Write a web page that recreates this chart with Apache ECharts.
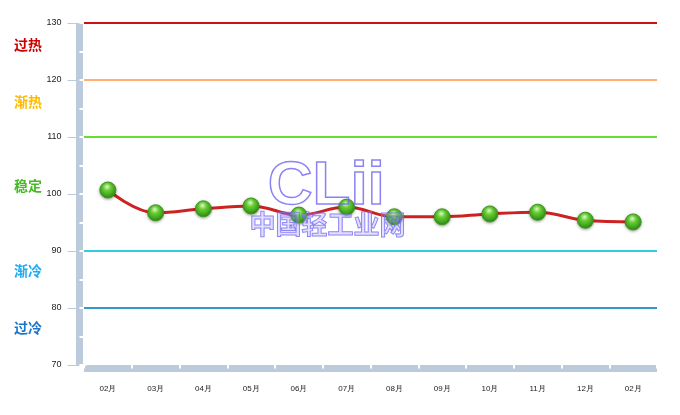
<!DOCTYPE html>
<html><head><meta charset="utf-8">
<script src="https://cdn.jsdelivr.net/npm/echarts@6/dist/echarts.min.js"></script>
<style>html,body{margin:0;padding:0;background:#fff}#c{width:680px;height:415px}</style>
</head><body><div id="c"></div>
<script>
const categories = ['02月','03月','04月','05月','06月','07月','08月','09月','10月','11月','12月','02月'];
const values = [100.7, 96.7, 97.4, 97.9, 96.3, 97.7, 96.0, 96.0, 96.5, 96.8, 95.4, 95.1];
const levelValues = [130, 120, 110, 90, 80];
const levelColors = ['#cc1111', '#ffb070', '#66dd33', '#33ccdd', '#3399cc'];
const zoneNames = ['过热', '渐热', '稳定', '渐冷', '过冷'];
const zoneValues = [126, 116, 101.2, 86.3, 76.3];
const zoneColors = ['#cc0000', '#ffbb00', '#44bb22', '#22aaee', '#1a77cc'];

const chart = echarts.init(document.getElementById('c'));
const grid = {left: 84, right: 23, top: 23, bottom: 50};
chart.setOption({
  animation: false,
  grid: grid,
  xAxis: [{
    type: 'category', data: categories, boundaryGap: true, offset: 3.5,
    axisLine: {lineStyle: {color: '#bccbdb', width: 7, cap: 'butt'}},
    axisTick: {show: true, inside: true, length: 7, lineStyle: {color: '#fff', width: 2}},
    axisLabel: {fontSize: 8, color: '#222', margin: 16, fontFamily: 'Arial'},
    splitLine: {show: false}
  }],
  yAxis: [{
    type: 'value', min: 70, max: 130, interval: 10, offset: 4.5,
    axisLine: {show: true, lineStyle: {color: '#bccbdb', width: 7, cap: 'butt'}},
    axisTick: {show: true, length: 12, lineStyle: {color: '#bccbdb', width: 1}},
    axisLabel: {fontSize: 9, color: '#222', margin: 18, fontFamily: 'Arial'},
    splitLine: {show: false}
  }, {
    type: 'value', min: 70, max: 130, interval: 5, offset: 4.5, position: 'left',
    axisLine: {show: false},
    axisTick: {show: true, inside: true, length: 7, lineStyle: {color: '#fff', width: 2}},
    axisLabel: {show: false},
    splitLine: {show: false}
  }],
  series: [{
    type: 'line', data: values, smooth: 0.4, z: 5,
    lineStyle: {color: '#cc2222', width: 3},
    symbol: 'circle', symbolSize: 16,
    itemStyle: {
      color: new echarts.graphic.RadialGradient(0.45, 0.3, 0.7, [
        {offset: 0, color: '#d8ffc0'}, {offset: 0.35, color: '#66cc33'}, {offset: 1, color: '#2a8a10'}
      ]),
      borderColor: '#3a9a1a', borderWidth: 1,
      shadowColor: 'rgba(0,0,0,0.35)', shadowBlur: 3, shadowOffsetY: 1
    },
    markLine: {
      silent: true, symbol: 'none', label: {show: false}, z: 1,
      data: levelValues.map((v, i) => ({yAxis: v, lineStyle: {color: levelColors[i], width: 2, type: 'solid'}}))
    }
  }]
});

const g = [];
zoneNames.forEach((n, i) => {
  const y = chart.convertToPixel({yAxisIndex: 0}, zoneValues[i]);
  g.push({type: 'text', left: 14, top: y - 8, style: {text: n, fill: zoneColors[i], font: 'bold 14px "Noto Sans CJK SC"'}});
});
g.push({type: 'text', left: 267, top: 155, z: 20, style: {text: 'CLii', fill: 'rgba(255,255,255,0)', stroke: 'rgba(110,100,240,0.8)', lineWidth: 1.5, font: 'bold 62px Arial'}});
g.push({type: 'text', left: 249, top: 211, z: 20, style: {text: '中国轻工业网', fill: 'rgba(160,150,255,0.3)', stroke: 'rgba(110,100,240,0.8)', lineWidth: 1, font: 'bold 26px "Noto Sans CJK SC"'}});
chart.setOption({graphic: g});
</script></body></html>
